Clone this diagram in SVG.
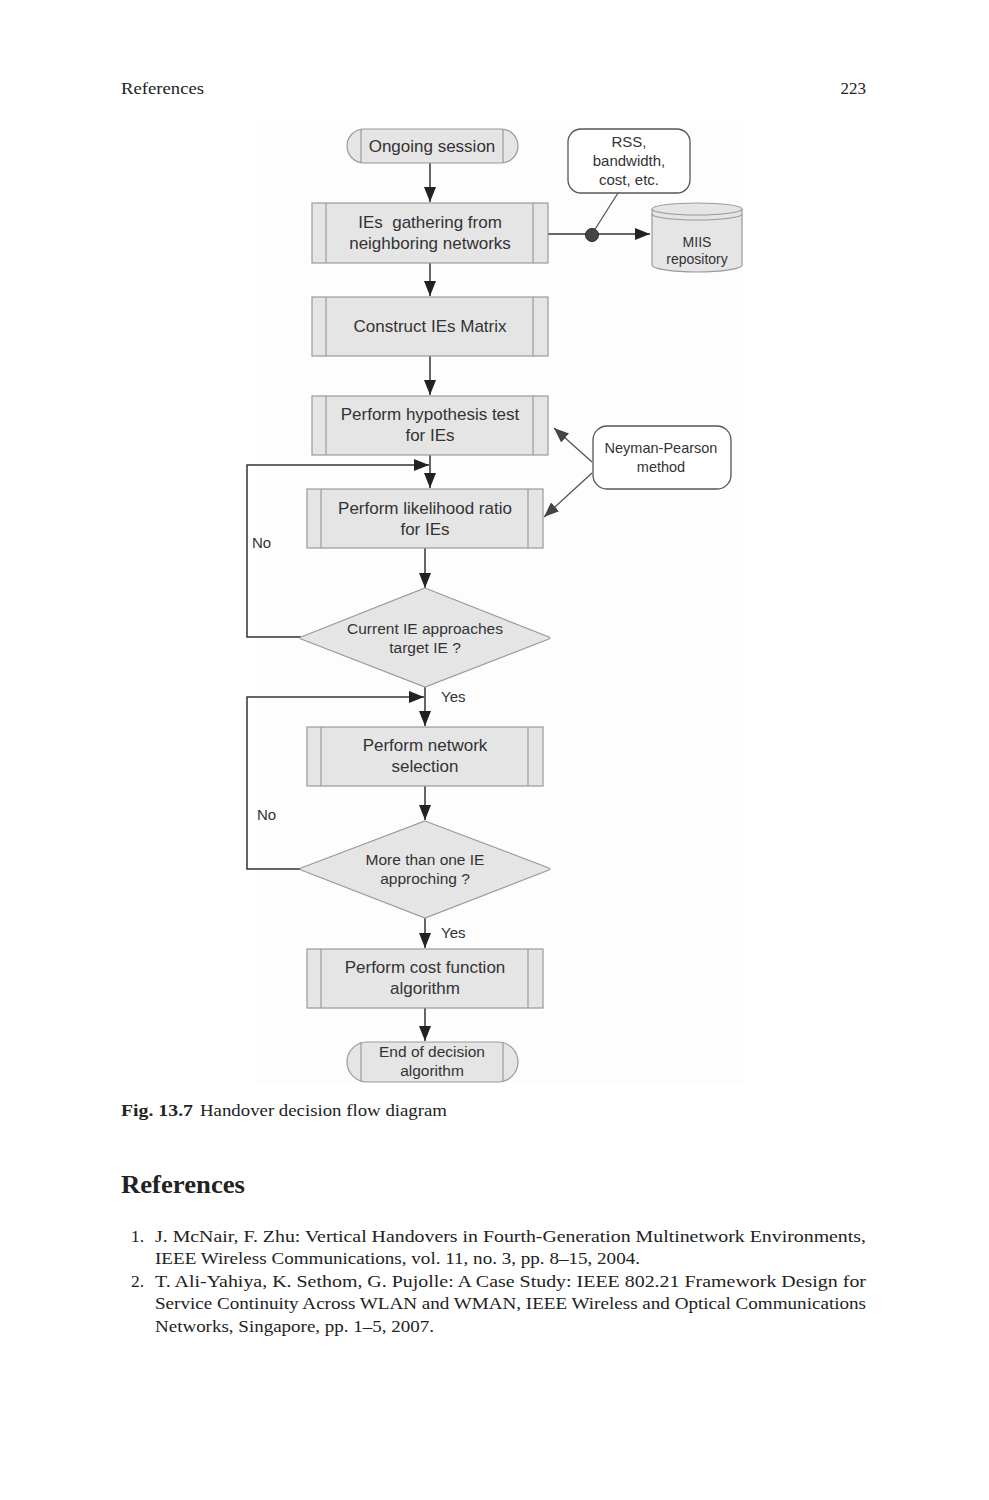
<svg xmlns="http://www.w3.org/2000/svg" width="989" height="1500" viewBox="0 0 989 1500">
<style>
.box{fill:#e5e5e5;stroke:#9a9a9a;stroke-width:1.2}
.inner{stroke:#9a9a9a;stroke-width:1.2;fill:none}
.call{fill:#ffffff;stroke:#555;stroke-width:1.3}
.t{font-family:"Liberation Sans",Arial,sans-serif;fill:#333;text-anchor:middle}
.t17{font-size:17px}
.t155{font-size:15.5px}
.t15{font-size:15px}
.t14{font-size:14.5px}
.lbl{font-family:"Liberation Sans",Arial,sans-serif;fill:#333;font-size:15px}
.con{stroke:#333;stroke-width:1.5;fill:none}
.gray{stroke:#555;stroke-width:1.3;fill:none}
.page{font-family:"Liberation Serif","Times New Roman",serif;fill:#222}
</style>
<defs>
<marker id="ah" markerUnits="userSpaceOnUse" markerWidth="16" markerHeight="12" refX="15" refY="6" orient="auto">
<path d="M0,0 L15,6 L0,12 Z" fill="#222"/>
</marker>
<marker id="ahg" markerUnits="userSpaceOnUse" markerWidth="16" markerHeight="12" refX="15" refY="6" orient="auto">
<path d="M0,0 L15,6 L0,12 Z" fill="#444"/>
</marker>
</defs>
<rect width="989" height="1500" fill="#ffffff"/>
<rect x="255" y="126" width="490" height="957" fill="#fdfdfd"/>

<!-- page text -->
<text class="page" x="121" y="94" font-size="16.5" textLength="83" lengthAdjust="spacingAndGlyphs">References</text>
<text class="page" x="866" y="94" font-size="17" text-anchor="end">223</text>

<g id="connectors">
<line class="con" x1="430" y1="163" x2="430" y2="202" marker-end="url(#ah)"/>
<line class="con" x1="548" y1="234" x2="650" y2="234" marker-end="url(#ah)"/>
<line class="gray" x1="592" y1="234" x2="618" y2="193"/>
<circle cx="592" cy="235" r="6.5" fill="#444" stroke="#222" stroke-width="1"/>
<line class="con" x1="430" y1="263" x2="430" y2="296" marker-end="url(#ah)"/>
<line class="con" x1="430" y1="356" x2="430" y2="395" marker-end="url(#ah)"/>
<line class="con" x1="430" y1="455" x2="430" y2="488" marker-end="url(#ah)"/>
<polyline class="con" points="301,637 247,637 247,465 429,465" marker-end="url(#ah)"/>
<line class="gray" x1="592" y1="462" x2="554" y2="428" marker-end="url(#ahg)"/>
<line class="gray" x1="592" y1="473" x2="544" y2="517" marker-end="url(#ahg)"/>
<line class="con" x1="425" y1="548" x2="425" y2="588" marker-end="url(#ah)"/>
<line class="con" x1="425" y1="687" x2="425" y2="726" marker-end="url(#ah)"/>
<polyline class="con" points="301,869 247,869 247,697 424,697" marker-end="url(#ah)"/>
<line class="con" x1="425" y1="786" x2="425" y2="820" marker-end="url(#ah)"/>
<line class="con" x1="425" y1="918" x2="425" y2="948" marker-end="url(#ah)"/>
<line class="con" x1="425" y1="1008" x2="425" y2="1041" marker-end="url(#ah)"/>
<text class="lbl" x="441" y="702">Yes</text>
<text class="lbl" x="252" y="548">No</text>
<text class="lbl" x="257" y="820">No</text>
<text class="lbl" x="441" y="938">Yes</text>
</g>

<g id="start">
<rect class="box" x="347" y="129" width="171" height="34" rx="17"/>
<line class="inner" x1="361" y1="129" x2="361" y2="163"/>
<line class="inner" x1="503" y1="129" x2="503" y2="163"/>
<text class="t t17" x="432" y="152">Ongoing session</text>
</g>

<g id="gather">
<rect class="box" x="312" y="203" width="236" height="60"/>
<line class="inner" x1="326" y1="203" x2="326" y2="263"/>
<line class="inner" x1="533" y1="203" x2="533" y2="263"/>
<text class="t t17" x="430" y="228" xml:space="preserve">IEs  gathering from</text>
<text class="t t17" x="430" y="249">neighboring networks</text>
</g>

<g id="rss">
<rect class="call" x="568" y="129" width="122" height="64" rx="13"/>
<text class="t t15" x="629" y="147">RSS,</text>
<text class="t t15" x="629" y="166">bandwidth,</text>
<text class="t t15" x="629" y="185">cost, etc.</text>
</g>

<g id="miis">
<path class="box" d="M652,209 A45,6 0 0 1 742,209 L742,265 A45,7 0 0 1 652,265 Z"/>
<path class="inner" d="M652,209 A45,6 0 0 0 742,209"/>
<path class="inner" d="M652,214 A45,6 0 0 0 742,214"/>
<text class="t" font-size="14" x="697" y="247">MIIS</text>
<text class="t" font-size="14" x="697" y="264">repository</text>
</g>

<g id="matrix">
<rect class="box" x="312" y="297" width="236" height="59"/>
<line class="inner" x1="326" y1="297" x2="326" y2="356"/>
<line class="inner" x1="533" y1="297" x2="533" y2="356"/>
<text class="t t17" x="430" y="332">Construct IEs Matrix</text>
</g>

<g id="hypothesis">
<rect class="box" x="312" y="396" width="236" height="59"/>
<line class="inner" x1="326" y1="396" x2="326" y2="455"/>
<line class="inner" x1="533" y1="396" x2="533" y2="455"/>
<text class="t t17" x="430" y="420">Perform hypothesis test</text>
<text class="t t17" x="430" y="441">for IEs</text>
</g>

<g id="neyman">
<rect class="call" x="593" y="426" width="138" height="63" rx="14"/>
<text class="t t14" x="661" y="453">Neyman-Pearson</text>
<text class="t t14" x="661" y="472">method</text>
</g>

<g id="likelihood">
<rect class="box" x="307" y="489" width="236" height="59"/>
<line class="inner" x1="321" y1="489" x2="321" y2="548"/>
<line class="inner" x1="528" y1="489" x2="528" y2="548"/>
<text class="t t17" x="425" y="514">Perform likelihood ratio</text>
<text class="t t17" x="425" y="535">for IEs</text>
</g>

<g id="decision1">
<path class="box" d="M425,588 L549,637 Q551,638 549,639 L425,687 L301,639 Q299,638 301,637 Z"/>
<text class="t t155" x="425" y="634">Current IE approaches</text>
<text class="t t155" x="425" y="653">target IE ?</text>
</g>

<g id="selection">
<rect class="box" x="307" y="727" width="236" height="59"/>
<line class="inner" x1="321" y1="727" x2="321" y2="786"/>
<line class="inner" x1="528" y1="727" x2="528" y2="786"/>
<text class="t t17" x="425" y="751">Perform network</text>
<text class="t t17" x="425" y="772">selection</text>
</g>

<g id="decision2">
<path class="box" d="M425,821 L549,868 Q551,869 549,870 L425,918 L301,870 Q299,869 301,868 Z"/>
<text class="t t155" x="425" y="865">More than one IE</text>
<text class="t t155" x="425" y="884">approching ?</text>
</g>

<g id="cost">
<rect class="box" x="307" y="949" width="236" height="59"/>
<line class="inner" x1="321" y1="949" x2="321" y2="1008"/>
<line class="inner" x1="528" y1="949" x2="528" y2="1008"/>
<text class="t t17" x="425" y="973">Perform cost function</text>
<text class="t t17" x="425" y="994">algorithm</text>
</g>

<g id="end">
<rect class="box" x="347" y="1042" width="171" height="40" rx="20"/>
<line class="inner" x1="361" y1="1042" x2="361" y2="1082"/>
<line class="inner" x1="503" y1="1042" x2="503" y2="1082"/>
<text class="t t155" x="432" y="1057">End of decision</text>
<text class="t t155" x="432" y="1076">algorithm</text>
</g>

<!-- caption & references -->
<text class="page" x="121" y="1116" font-size="17.5" font-weight="bold" textLength="72" lengthAdjust="spacingAndGlyphs">Fig. 13.7</text>
<text class="page" x="200" y="1116" font-size="17.5" textLength="247" lengthAdjust="spacingAndGlyphs">Handover decision flow diagram</text>
<text class="page" x="121" y="1193" font-size="25" font-weight="bold" textLength="124" lengthAdjust="spacingAndGlyphs">References</text>
<g class="page" font-size="17.5">
<text x="131" y="1242">1.</text>
<text x="155" y="1242" textLength="711" lengthAdjust="spacingAndGlyphs">J. McNair, F. Zhu: Vertical Handovers in Fourth-Generation Multinetwork Environments,</text>
<text x="155" y="1264" textLength="485" lengthAdjust="spacingAndGlyphs">IEEE Wireless Communications, vol. 11, no. 3, pp. 8–15, 2004.</text>
<text x="131" y="1287">2.</text>
<text x="155" y="1287" textLength="711" lengthAdjust="spacingAndGlyphs">T. Ali-Yahiya, K. Sethom, G. Pujolle: A Case Study: IEEE 802.21 Framework Design for</text>
<text x="155" y="1309" textLength="711" lengthAdjust="spacingAndGlyphs">Service Continuity Across WLAN and WMAN, IEEE Wireless and Optical Communications</text>
<text x="155" y="1332" textLength="279" lengthAdjust="spacingAndGlyphs">Networks, Singapore, pp. 1–5, 2007.</text>
</g>
</svg>
